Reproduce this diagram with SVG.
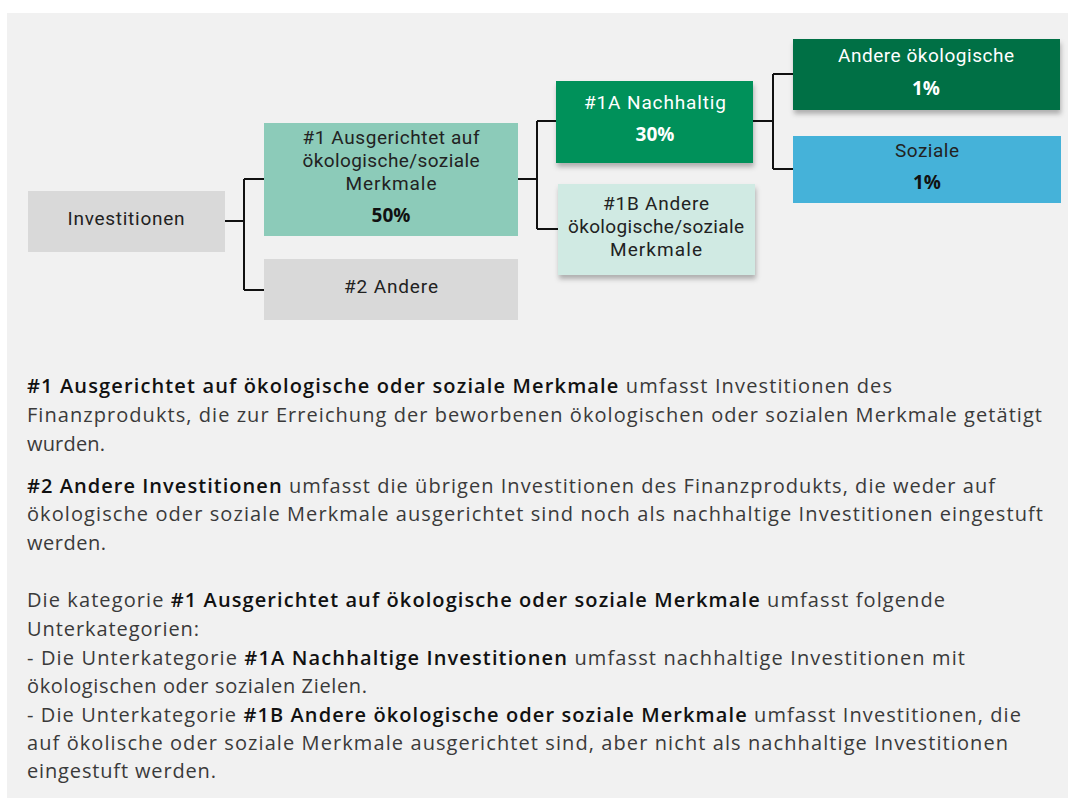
<svg xmlns="http://www.w3.org/2000/svg" width="1068" height="798" viewBox="0 0 1068 798">
  <style>
    .lbl { font-family: Roboto, "Open Sans", "Liberation Sans", sans-serif; font-size: 19px; font-weight: 400; text-anchor: middle; fill: #222; }
    .pct { font-family: "Open Sans", "Liberation Sans", sans-serif; font-size: 19px; font-weight: bold; text-anchor: middle; fill: #111; }
    .wht { fill: #ffffff; }
    .body { font-family: "Open Sans", "Liberation Sans", sans-serif; font-size: 20px; fill: #3a3a3a; }
    .b { font-weight: 600; fill: #111; }
    .conn { fill: none; stroke: #111; stroke-width: 2; }
  </style>
  <defs>
    <filter id="sh" x="-10%" y="-10%" width="120%" height="140%">
      <feDropShadow dx="1" dy="4" stdDeviation="2.5" flood-color="#000" flood-opacity="0.28"/>
    </filter>
  </defs>

  <rect x="7" y="13" width="1061" height="785" fill="#f1f1f1"/>

  <g id="connectors">
    <path class="conn" d="M225 221 H244 M244 179 V290 M244 179 H264 M244 290 H264"/>
    <path class="conn" d="M518 179 H537 M537 121 V229 M537 121 H556 M537 229 H558"/>
    <path class="conn" d="M753 121 H773 M773 74 V169 M773 74 H793 M773 169 H793"/>
  </g>

  <g id="investitionen">
    <rect x="28" y="191" width="197" height="61" fill="#d9d9d9"/>
    <text class="lbl" x="126" y="225" textLength="117">Investitionen</text>
  </g>

  <g id="n1">
    <rect x="264" y="123" width="254" height="113" fill="#8ccbb9"/>
    <text class="lbl" x="391" y="144" textLength="177">#1 Ausgerichtet auf</text>
    <text class="lbl" x="391" y="167" textLength="177">ökologische/soziale</text>
    <text class="lbl" x="391" y="190" textLength="91">Merkmale</text>
    <text class="pct" x="391" y="222">50%</text>
  </g>

  <g id="n2">
    <rect x="264" y="259" width="254" height="61" fill="#d9d9d9"/>
    <text class="lbl" x="391" y="293" textLength="94">#2 Andere</text>
  </g>

  <g id="n1a">
    <rect x="556" y="81" width="197" height="82" fill="#00915a" filter="url(#sh)"/>
    <text class="lbl wht" x="655" y="109" textLength="142">#1A Nachhaltig</text>
    <text class="pct wht" x="655" y="141">30%</text>
  </g>

  <g id="n1b">
    <rect x="558" y="184" width="197" height="91" fill="#d0eae3" filter="url(#sh)"/>
    <text class="lbl" x="656" y="210" textLength="106">#1B Andere</text>
    <text class="lbl" x="656" y="233" textLength="176">ökologische/soziale</text>
    <text class="lbl" x="656" y="256" textLength="92">Merkmale</text>
  </g>

  <g id="andere-oekologische">
    <rect x="793" y="39" width="267" height="71" fill="#006f45" filter="url(#sh)"/>
    <text class="lbl wht" x="926" y="62" textLength="176">Andere ökologische</text>
    <text class="pct wht" x="926" y="95">1%</text>
  </g>

  <g id="soziale">
    <rect x="793" y="136" width="268" height="67" fill="#45b2d9"/>
    <text class="lbl" x="927" y="157" textLength="64">Soziale</text>
    <text class="pct" x="927" y="189">1%</text>
  </g>

  <g id="description">
    <text class="body" x="27" y="393" textLength="865"><tspan class="b">#1 Ausgerichtet auf ökologische oder soziale Merkmale</tspan> umfasst Investitionen des</text>
    <text class="body" x="27" y="422" textLength="1015">Finanzprodukts, die zur Erreichung der beworbenen ökologischen oder sozialen Merkmale getätigt</text>
    <text class="body" x="27" y="451" textLength="78">wurden.</text>

    <text class="body" x="27" y="493" textLength="968"><tspan class="b">#2 Andere Investitionen</tspan> umfasst die übrigen Investitionen des Finanzprodukts, die weder auf</text>
    <text class="body" x="27" y="521" textLength="1016">ökologische oder soziale Merkmale ausgerichtet sind noch als nachhaltige Investitionen eingestuft</text>
    <text class="body" x="27" y="550" textLength="79">werden.</text>

    <text class="body" x="27" y="607" textLength="918">Die kategorie <tspan class="b">#1 Ausgerichtet auf ökologische oder soziale Merkmale</tspan> umfasst folgende</text>
    <text class="body" x="27" y="636" textLength="172">Unterkategorien:</text>
    <text class="body" x="27" y="665" textLength="938">- Die Unterkategorie <tspan class="b">#1A Nachhaltige Investitionen</tspan> umfasst nachhaltige Investitionen mit</text>
    <text class="body" x="27" y="693" textLength="340">ökologischen oder sozialen Zielen.</text>
    <text class="body" x="27" y="722" textLength="994">- Die Unterkategorie <tspan class="b">#1B Andere ökologische oder soziale Merkmale</tspan> umfasst Investitionen, die</text>
    <text class="body" x="27" y="750" textLength="981">auf ökolische oder soziale Merkmale ausgerichtet sind, aber nicht als nachhaltige Investitionen</text>
    <text class="body" x="27" y="778" textLength="189">eingestuft werden.</text>
  </g>
</svg>
